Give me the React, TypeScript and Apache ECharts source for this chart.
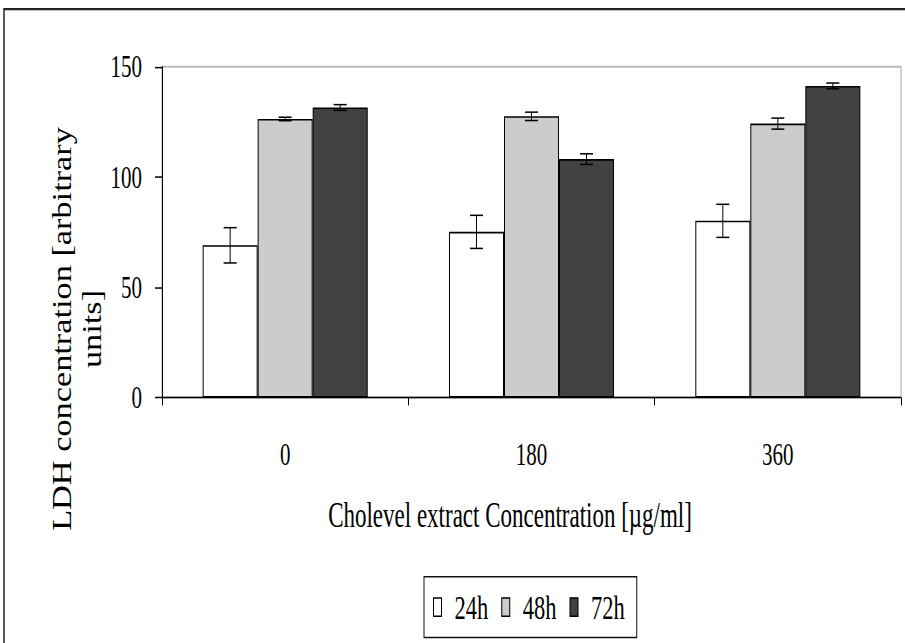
import React, { useEffect, useRef } from "react";
import * as echarts from "echarts";

const categories = ["0", "180", "360"];
const seriesNames = ["24h", "48h", "72h"];
const values24 = [69.0, 75.1, 80.1];
const values48 = [126.3, 127.5, 124.2];
const values72 = [131.5, 108.1, 141.3];
const err24 = [8.0, 7.5, 7.5];
const err48 = [0.8, 1.9, 2.5];
const err72 = [1.3, 2.4, 1.3];
const barColors = ["#ffffff", "#cccccc", "#424242"];
const yMin = 0;
const yMax = 150;
const yInterval = 50;
const xTitle = "Cholevel extract Concentration [µg/ml]";
const yTitle = "LDH concentration [arbitrary\nunits]";

const STRETCH = 1.52;
const W = 905;
const H = 643 / STRETCH;
const FONT = "'Liberation Serif', 'Times New Roman', serif";
const CAT_GAP = 0.33;

export default function App() {
  const ref = useRef<HTMLDivElement>(null);

  useEffect(() => {
    if (!ref.current) return;
    const chart = echarts.init(ref.current, null, { renderer: "svg" });
    const allValues = [values24, values48, values72];
    const allErrs = [err24, err48, err72];

    const barSeries = seriesNames.map((name, i) => ({
      name,
      type: "bar",
      data: allValues[i],
      barGap: "0%",
      barCategoryGap: CAT_GAP * 100 + "%",
      itemStyle: { color: barColors[i], borderColor: "#000", borderWidth: 1 },
      z: 2,
    }));

    const errSeries = seriesNames.map((name, i) => ({
      name: name + " error",
      type: "custom",
      z: 4,
      silent: true,
      encode: { x: 0, y: 1 },
      data: categories.map((_, k) => [k, allValues[i][k], allErrs[i][k]]),
      renderItem: (params: any, api: any) => {
        const ci = api.value(0);
        const v = api.value(1);
        const e = api.value(2);
        const band = api.size([1, 0])[0];
        const bw = (band * (1 - CAT_GAP)) / 3;
        const c = api.coord([ci, v]);
        const cx = c[0] + (i - 1) * bw;
        const yt = api.coord([ci, v + e])[1];
        const yb = api.coord([ci, v - e])[1];
        const h = 6.5;
        const st = { stroke: "#000", lineWidth: 1 };
        return {
          type: "group",
          children: [
            { type: "line", shape: { x1: cx, y1: yt, x2: cx, y2: yb }, style: st },
            { type: "line", shape: { x1: cx - h, y1: yt, x2: cx + h, y2: yt }, style: st },
            { type: "line", shape: { x1: cx - h, y1: yb, x2: cx + h, y2: yb }, style: st },
          ],
        };
      },
    }));

    chart.setOption({
      animation: false,
      backgroundColor: "#ffffff",
      grid: {
        left: 162,
        right: 4,
        top: 43.9,
        bottom: H - 261.5,
        show: true,
        borderColor: "#bdbdbd",
        borderWidth: 1.3,
        backgroundColor: "transparent",
        outerBoundsMode: "none",
        containLabel: false,
      },
      legend: {
        data: seriesNames,
        left: 424,
        top: 379.4,
        orient: "horizontal",
        icon: "rect",
        itemWidth: 8,
        itemHeight: 12,
        itemGap: 13,
        padding: [8, 12, 8, 9],
        borderColor: "#111",
        borderWidth: 1,
        backgroundColor: "#fff",
        itemStyle: { borderColor: "#000", borderWidth: 1 },
        textStyle: {
          fontFamily: FONT,
          fontSize: 22.5,
          color: "#000",
          lineHeight: 24,
          padding: [0, 0, 0, 8],
        },
      },
      xAxis: {
        type: "category",
        data: categories,
        name: xTitle,
        nameLocation: "middle",
        nameGap: 66,
        nameTextStyle: {
          fontFamily: FONT,
          fontSize: 23,
          color: "#000",
          padding: [0, 43, 0, 0],
        },
        axisLine: { show: true, lineStyle: { color: "#000", width: 1 } },
        axisTick: { show: true, alignWithLabel: false, length: 5.3, lineStyle: { color: "#000", width: 1 } },
        axisLabel: { fontFamily: FONT, fontSize: 21, color: "#000", margin: 27 },
        splitLine: { show: false },
      },
      yAxis: {
        type: "value",
        min: yMin,
        max: yMax,
        interval: yInterval,
        axisLine: { show: true, lineStyle: { color: "#000", width: 1 } },
        axisTick: { show: true, length: 7, lineStyle: { color: "#000", width: 1 } },
        axisLabel: { fontFamily: FONT, fontSize: 21, color: "#000", margin: 20 },
        splitLine: { show: false },
      },
      graphic: [
        {
          type: "rect",
          silent: true,
          z: 100,
          shape: { x: 4, y: 6, width: 1200, height: 1200 },
          style: { fill: "none", stroke: "#222", lineWidth: 1.5 },
        },
        {
          type: "text",
          silent: true,
          x: 77,
          y: 329 / STRETCH,
          rotation: Math.PI / 2,
          scaleX: 0.836,
          scaleY: 1,
          style: {
            text: yTitle,
            fontFamily: FONT,
            fontSize: 27,
            lineHeight: 30,
            fill: "#000",
            align: "center",
            verticalAlign: "middle",
          },
        },
      ],
      series: [...barSeries, ...errSeries],
    });

    return () => chart.dispose();
  }, []);

  return (
    <div style={{ position: "absolute", left: 0, top: 0, width: W, height: 643, overflow: "hidden", background: "#fff" }}>
      <div
        ref={ref}
        style={{
          width: W,
          height: H,
          transform: `scaleY(${STRETCH})`,
          transformOrigin: "0 0",
        }}
      />
    </div>
  );
}
